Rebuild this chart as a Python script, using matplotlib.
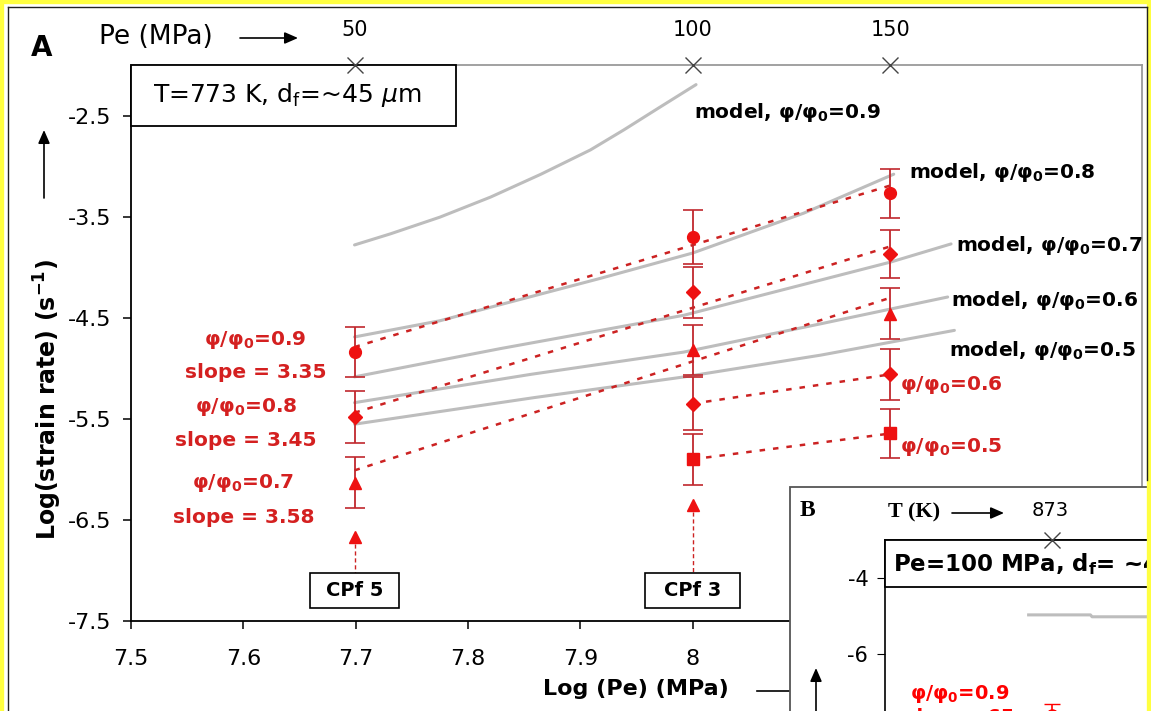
import numpy as np
import matplotlib
matplotlib.use("Agg")
import matplotlib.pyplot as plt
from matplotlib.patches import Rectangle, FancyArrowPatch
from matplotlib.lines import Line2D

plt.rcParams['font.family'] = ['DejaVu Sans']
plt.rcParams['axes.unicode_minus'] = False
plt.rcParams['mathtext.fontset'] = 'dejavusans'

# ---------------- data ----------------
pe_mpa = [50, 100, 150]
pe_labels = ['50', '100', '150']
log_pe = np.log10(np.array(pe_mpa, dtype=float) * 1e6)

# measured log strain rates and error half-widths per porosity ratio
rate_09 = [-4.84, -3.70, -3.27]
err_09 = [0.25, 0.27, 0.245]
rate_08 = [-5.48, -4.25, -3.87]
err_08 = [0.255, 0.25, 0.24]
rate_07 = [-6.13, -4.82, -4.46]
err_07 = [0.255, 0.25, 0.25]
rate_06 = [-5.35, -5.06]          # at 100 and 150 MPa
err_06 = [0.26, 0.25]
rate_05 = [-5.90, -5.645]         # at 100 and 150 MPa
err_05 = [0.25, 0.245]
# specimen end points (CPf 5 at 50 MPa, CPf 3 at 100 MPa)
cpf_names = ['CPf 5', 'CPf 3']
cpf_rate = [-6.67, -6.35]

# power-law fits: slope and value at 50 MPa
fit_labels = ['0.9', '0.8', '0.7']
fit_slopes = [3.35, 3.45, 3.58]
fit_start = [-4.79, -5.44, -6.01]

# model curves
model_09_x = [7.699, 7.731, 7.775, 7.820, 7.865, 7.909, 7.939, 7.969, 8.003]
model_09_y = [-3.78, -3.67, -3.505, -3.307, -3.08, -2.84, -2.64, -2.43, -2.194]
model_08_x = [7.699, 7.775, 7.829, 7.918, 8.0, 8.099, 8.179]
model_08_y = [-4.69, -4.53, -4.37, -4.11, -3.86, -3.465, -3.08]
model_07_x = [7.699, 7.829, 7.992, 8.176, 8.23]
model_07_y = [-5.085, -4.805, -4.476, -3.95, -3.77]
model_06_x = [7.699, 7.856, 7.992, 8.114, 8.227]
model_06_y = [-5.34, -5.06, -4.84, -4.56, -4.295]
model_05_x = [7.699, 7.859, 7.992, 8.114, 8.233]
model_05_y = [-5.553, -5.29, -5.086, -4.87, -4.625]

# panel B (temperature series)
b_temp_tick = 873
b_model_x = [859, 896, 897, 1000]
b_model_y = [-4.97, -4.97, -5.02, -5.02]
b_rate_x = [873]
b_rate_y = [-7.60]
b_rate_err = [0.28]

# ---------------- layout helpers ----------------
W, H = 1151, 711
def fx(px):
    return px / W
def fy(py):
    return 1 - py / H

RED = '#EE1111'
BAR = '#C0282D'
DASH = '#CC2222'
TXT_RED = '#D42020'
GREY = '#BDBDBD'

def arrow(p0, p1, z=5):
    fig.add_artist(FancyArrowPatch(
        (fx(p0[0]), fy(p0[1])), (fx(p1[0]), fy(p1[1])), transform=fig.transFigure,
        arrowstyle='-|>,head_length=8,head_width=3.5', color='black', lw=1.2,
        mutation_scale=1, zorder=z, shrinkA=0, shrinkB=0))

fig = plt.figure(figsize=(W / 100, H / 100), dpi=100)
fig.patch.set_facecolor('white')

ax = fig.add_axes([fx(131), fy(621), fx(1142) - fx(131), fy(65) - fy(621)])
ax.set_xlim(7.5, 8.4)
ax.set_ylim(-7.5, -2.0)
ax.set_xticks([7.5, 7.6, 7.7, 7.8, 7.9, 8.0])
ax.set_xticklabels(['7.5', '7.6', '7.7', '7.8', '7.9', '8'])
ax.set_yticks([-7.5, -6.5, -5.5, -4.5, -3.5, -2.5])
ax.set_yticklabels(['-7.5', '-6.5', '-5.5', '-4.5', '-3.5', '-2.5'])
for side in ('left', 'bottom'):
    ax.spines[side].set_color('black')
    ax.spines[side].set_linewidth(1.3)
for side in ('top', 'right'):
    ax.spines[side].set_color('#9A9A9A')
    ax.spines[side].set_linewidth(1.3)
ax.tick_params(axis='y', direction='out', length=6, width=1.1, labelsize=16, pad=8)
ax.tick_params(axis='x', direction='out', length=6, width=1.1, labelsize=16, pad=14)

# model curves
for mx, my in [(model_09_x, model_09_y), (model_08_x, model_08_y),
               (model_07_x, model_07_y), (model_06_x, model_06_y),
               (model_05_x, model_05_y)]:
    ax.plot(mx, my, color=GREY, lw=2.2, solid_capstyle='round',
            solid_joinstyle='round', zorder=2)

# fitted power-law lines
dash = (0, (2.2, 3.2))
xfit = np.array([log_pe[0], log_pe[2]])
for s, y0 in zip(fit_slopes, fit_start):
    ax.plot(xfit, y0 + s * (xfit - log_pe[0]), color=DASH, lw=1.8, ls=dash, zorder=3)
ax.plot(log_pe[1:], rate_06, color=DASH, lw=1.8, ls=dash, zorder=3)
ax.plot(log_pe[1:], rate_05, color=DASH, lw=1.8, ls=dash, zorder=3)

# measured points with error bars
ebkw = dict(ecolor=BAR, elinewidth=1.3, capsize=7, capthick=1.2, ls='none',
            color=RED, zorder=4)
ax.errorbar(log_pe, rate_09, yerr=err_09, marker='o', ms=8.5, **ebkw)
ax.errorbar(log_pe, rate_08, yerr=err_08, marker='D', ms=7.5, **ebkw)
ax.errorbar(log_pe, rate_07, yerr=err_07, marker='^', ms=9, **ebkw)
ax.errorbar(log_pe[1:], rate_06, yerr=err_06, marker='D', ms=7.5, **ebkw)
ax.errorbar(log_pe[1:], rate_05, yerr=err_05, marker='s', ms=8, **ebkw)
ax.plot(log_pe[:2], cpf_rate, ls='none', marker='^', ms=9, color=RED, zorder=4)

# specimen boxes with dashed leaders
box_bottom, box_top = -7.372, -7.026
box_half = [0.0398, 0.0423]
for xc, yr, name, hw in zip(log_pe[:2], cpf_rate, cpf_names, box_half):
    ax.plot([xc, xc], [yr, box_top], color=DASH, lw=1.0, ls=(0, (3, 2)), zorder=3)
    ax.add_patch(Rectangle((xc - hw, box_bottom), 2 * hw, box_top - box_bottom,
                           fc='white', ec='black', lw=1.2, zorder=5))
    ax.text(xc, (box_bottom + box_top) / 2, name, ha='center', va='center',
            fontsize=14, fontweight='bold', zorder=6)

# condition box
ax.add_patch(Rectangle((7.5, -2.6), 0.289, 0.6, fc='white', ec='black', lw=1.3,
                       zorder=5, clip_on=False))
ax.text(7.5 + (153 - 131) / 1122, -2.3, r'T=773 K, d$_\mathregular{f}$=~45 $\mu$m',
        ha='left', va='center', fontsize=18, zorder=6)

# model labels
def phi_lab(v):
    return 'φ/φ$_\\mathbf{0}$=' + v
model_lab_pos = [(8.001, -2.47), (8.1925, -3.063), (8.234, -3.785),
                 (8.230, -4.328), (8.228, -4.822)]
for v, (tx, ty) in zip(['0.9', '0.8', '0.7', '0.6', '0.5'], model_lab_pos):
    ax.text(tx, ty, 'model, ' + phi_lab(v), ha='left', va='center',
            fontsize=14.5, fontweight='bold', color='black', zorder=6,
            clip_on=False)

# experimental labels
ax.text(8.185, -5.168, phi_lab('0.6'), ha='left', va='center', fontsize=14.5,
        fontweight='bold', color=TXT_RED, zorder=6)
ax.text(8.185, -5.781, phi_lab('0.5'), ha='left', va='center', fontsize=14.5,
        fontweight='bold', color=TXT_RED, zorder=6)
left_lab_y = [(-4.723, -5.04), (-5.385, -5.711), (-6.136, -6.472)]
left_lab_x = [7.611, 7.6025, 7.600]
for v, s, (y1, y2), xl in zip(fit_labels, fit_slopes, left_lab_y, left_lab_x):
    ax.text(xl, y1, phi_lab(v), ha='center', va='center', fontsize=14.5,
            fontweight='bold', color=TXT_RED, zorder=6)
    ax.text(xl, y2, f'slope = {s:.2f}', ha='center', va='center', fontsize=14.5,
            fontweight='bold', color=TXT_RED, zorder=6)

# upper pressure scale
ax.plot(log_pe, [-2.0] * 3, ls='none', marker='x', ms=12, mew=1.0,
        color='#444444', clip_on=False, zorder=7)
for xp, lab in zip(log_pe, pe_labels):
    ax.text(xp, 1.063, lab, transform=ax.get_xaxis_transform(), ha='center',
            va='center', fontsize=15)

# axis titles
fig.text(fx(42), fy(48), 'A', fontsize=20, fontweight='bold', ha='center', va='center')
fig.text(fx(99), fy(37), 'Pe (MPa)', fontsize=19, ha='left', va='center')
arrow((240, 38), (298, 38))
fig.text(fx(48), fy(400), r'Log(strain rate) (s$^\mathbf{-1}$)', rotation=90,
         fontsize=17, fontweight='bold', ha='center', va='center')
arrow((44, 198), (44, 130))
fig.text(fx(636), fy(689), 'Log (Pe) (MPa)', fontsize=16, fontweight='bold',
         ha='center', va='center')
fig.add_artist(Line2D([fx(757), fx(800)], [fy(691), fy(691)],
                      transform=fig.transFigure, color='black', lw=1.2, zorder=1))

# ---------------- panel B ----------------
fig.add_artist(Rectangle((fx(790), -0.2), 0.5, fy(487) + 0.2,
                         transform=fig.transFigure, fc='white', ec='#555555',
                         lw=1.3, zorder=1.5))
axb = fig.add_axes([fx(885), fy(900), 400 / W, (900 - 540) / H], zorder=2)
axb.set_xlim(773, 1012.5)
axb.set_ylim(-12.47, -3.0)
axb.set_yticks([-4, -6, -8, -10, -12])
axb.set_yticklabels(['-4', '-6', '-8', '-10', '-12'])
axb.set_xticks([])
axb.tick_params(axis='y', direction='out', length=6, labelsize=15, pad=6)
for side in ('left', 'top'):
    axb.spines[side].set_color('black')
    axb.spines[side].set_linewidth(1.2)
for side in ('right', 'bottom'):
    axb.spines[side].set_visible(False)
axb.plot(b_model_x, b_model_y, color=GREY, lw=2.2, zorder=2)
axb.errorbar(b_rate_x, b_rate_y, yerr=b_rate_err, ls='none', marker='o', ms=8,
             color='#FF0000', ecolor='#FF0000', elinewidth=1.2, capsize=6, zorder=3)
axb.plot([b_temp_tick], [-3.0], ls='none', marker='x', ms=12, mew=1.0,
         color='#444444', clip_on=False, zorder=7)
axb.add_patch(Rectangle((773, -4.24), 400, 1.24, fc='white', ec='black', lw=1.3,
                        zorder=5, clip_on=False))
axb.text(778, -3.65, r'Pe=100 MPa, d$_\mathbf{f}$= ~45 $\mu$m', ha='left',
         va='center', fontsize=16.5, fontweight='bold', zorder=6)
axb.text(818, -7.05, phi_lab('0.9'), ha='center', va='center', fontsize=14,
         fontweight='bold', color='#FF0000', zorder=6)
axb.text(818, -7.68, 'slope= 65', ha='center', va='center', fontsize=14,
         fontweight='bold', color='#FF0000', zorder=6)

fig.text(fx(807), fy(510), 'B', fontsize=17, fontweight='bold',
         family='Liberation Serif', ha='center', va='center', zorder=5)
fig.text(fx(888), fy(512), 'T (K)', fontsize=16, fontweight='bold',
         family='Liberation Serif', ha='left', va='center', zorder=5)
arrow((952, 513), (1004, 513))
fig.text(fx(1050), fy(510), '873', fontsize=14, ha='center', va='center', zorder=5)
arrow((816, 715), (816, 668))

# ---------------- page border ----------------
for (x0, y0), (x1, y1) in ([(0, 1), (1, 1)], [(0, 0), (0, 1)], [(1, 0), (1, 1)]):
    fig.add_artist(Line2D([x0, x1], [y0, y1], transform=fig.transFigure,
                          color='#FFFF40', lw=6, zorder=20))
fig.add_artist(Line2D([fx(8), fx(1147)], [fy(7), fy(7)], transform=fig.transFigure,
                      color='#222222', lw=1.0, zorder=20))
fig.add_artist(Line2D([fx(8), fx(8)], [fy(7), 0], transform=fig.transFigure,
                      color='#222222', lw=1.0, zorder=20))
fig.add_artist(Line2D([fx(1147), fx(1147)], [fy(7), fy(480)], transform=fig.transFigure,
                      color='#222222', lw=1.0, zorder=20))

fig.savefig('out.png', dpi=100)
